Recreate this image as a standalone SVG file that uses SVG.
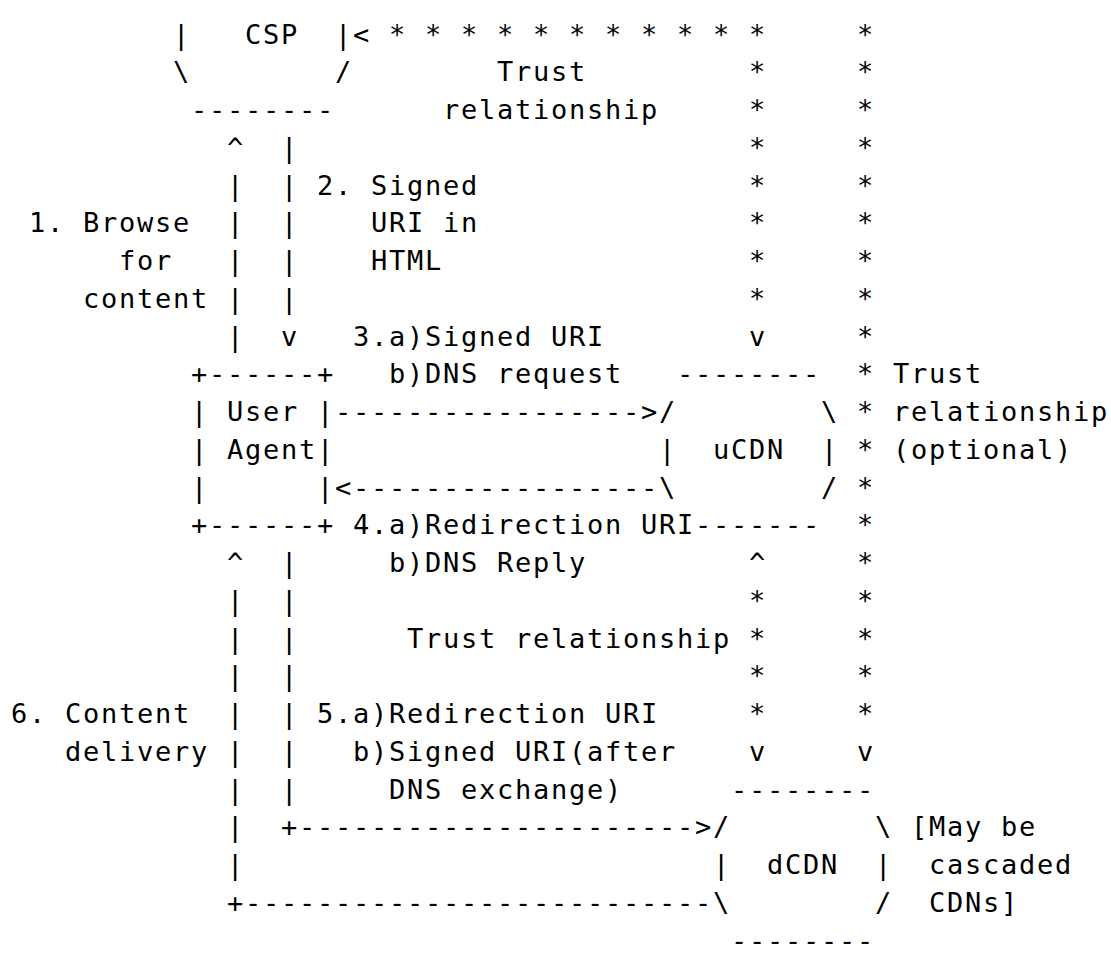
<svg xmlns="http://www.w3.org/2000/svg" width="1111" height="954" viewBox="0 0 1111 954">
<style>
text { font-family: "DejaVu Sans Mono", "Liberation Mono", monospace; font-size: 27px; letter-spacing: 1.745px; fill: #000; }
</style>
<rect width="1111" height="954" fill="#fff"/>
<g id="csp">
  <text x="172.9" y="43.5">|</text>
  <text x="244.9" y="43.5">CSP</text>
  <text x="334.9" y="43.5">|</text>
  <text x="172.9" y="81.25">\</text>
  <text x="334.9" y="81.25">/</text>
  <text x="190.9" y="119">--------</text>
</g>
<g id="user-agent">
  <text x="190.9" y="383.25">+------+</text>
  <text x="190.9" y="421">|</text>
  <text x="226.9" y="421">User</text>
  <text x="316.9" y="421">|</text>
  <text x="190.9" y="458.75">|</text>
  <text x="226.9" y="458.75">Agent|</text>
  <text x="190.9" y="496.5">|</text>
  <text x="316.9" y="496.5">|</text>
  <text x="190.9" y="534.25">+------+</text>
</g>
<g id="ucdn">
  <text x="676.9" y="383.25">--------</text>
  <text x="658.9" y="421">/</text>
  <text x="820.9" y="421">\</text>
  <text x="658.9" y="458.75">|</text>
  <text x="712.9" y="458.75">uCDN</text>
  <text x="820.9" y="458.75">|</text>
  <text x="658.9" y="496.5">\</text>
  <text x="820.9" y="496.5">/</text>
  <text x="694.9" y="534.25">-------</text>
</g>
<g id="dcdn">
  <text x="730.9" y="798.5">--------</text>
  <text x="712.9" y="836.25">/</text>
  <text x="874.9" y="836.25">\</text>
  <text x="712.9" y="874">|</text>
  <text x="766.9" y="874">dCDN</text>
  <text x="874.9" y="874">|</text>
  <text x="712.9" y="911.75">\</text>
  <text x="874.9" y="911.75">/</text>
  <text x="730.9" y="949.5">--------</text>
</g>
<g id="connectors">
  <!-- 1. browse: user agent up to CSP -->
  <text x="226.9"><tspan x="226.9" y="156.75">^</tspan><tspan x="226.9" y="194.5">|</tspan><tspan x="226.9" y="232.25">|</tspan><tspan x="226.9" y="270">|</tspan><tspan x="226.9" y="307.75">|</tspan><tspan x="226.9" y="345.5">|</tspan></text>
  <!-- 2. signed URI: CSP down to user agent -->
  <text x="280.9"><tspan x="280.9" y="156.75">|</tspan><tspan x="280.9" y="194.5">|</tspan><tspan x="280.9" y="232.25">|</tspan><tspan x="280.9" y="270">|</tspan><tspan x="280.9" y="307.75">|</tspan><tspan x="280.9" y="345.5">v</tspan></text>
  <!-- 3. request to uCDN -->
  <text x="334.9" y="421">-----------------&gt;</text>
  <!-- 4. reply from uCDN -->
  <text x="334.9" y="496.5">&lt;-----------------</text>
  <!-- 6. content delivery: dCDN to user agent -->
  <text x="226.9"><tspan x="226.9" y="572">^</tspan><tspan x="226.9" y="609.75">|</tspan><tspan x="226.9" y="647.5">|</tspan><tspan x="226.9" y="685.25">|</tspan><tspan x="226.9" y="723">|</tspan><tspan x="226.9" y="760.75">|</tspan><tspan x="226.9" y="798.5">|</tspan><tspan x="226.9" y="836.25">|</tspan><tspan x="226.9" y="874">|</tspan><tspan x="226.9" y="911.75">+--------------------------</tspan></text>
  <!-- 5. request to dCDN -->
  <text x="280.9"><tspan x="280.9" y="572">|</tspan><tspan x="280.9" y="609.75">|</tspan><tspan x="280.9" y="647.5">|</tspan><tspan x="280.9" y="685.25">|</tspan><tspan x="280.9" y="723">|</tspan><tspan x="280.9" y="760.75">|</tspan><tspan x="280.9" y="798.5">|</tspan><tspan x="280.9" y="836.25">+----------------------&gt;</tspan></text>
  <!-- trust CSP - uCDN -->
  <text x="352.9" y="43.5">&lt; * * * * * * * * * * *</text>
  <text x="748.9"><tspan x="748.9" y="81.25">*</tspan><tspan x="748.9" y="119">*</tspan><tspan x="748.9" y="156.75">*</tspan><tspan x="748.9" y="194.5">*</tspan><tspan x="748.9" y="232.25">*</tspan><tspan x="748.9" y="270">*</tspan><tspan x="748.9" y="307.75">*</tspan><tspan x="748.9" y="345.5">v</tspan></text>
  <!-- trust CSP - dCDN (optional) -->
  <text x="856.9"><tspan x="856.9" y="43.5">*</tspan><tspan x="856.9" y="81.25">*</tspan><tspan x="856.9" y="119">*</tspan><tspan x="856.9" y="156.75">*</tspan><tspan x="856.9" y="194.5">*</tspan><tspan x="856.9" y="232.25">*</tspan><tspan x="856.9" y="270">*</tspan><tspan x="856.9" y="307.75">*</tspan><tspan x="856.9" y="345.5">*</tspan><tspan x="856.9" y="383.25">*</tspan><tspan x="856.9" y="421">*</tspan><tspan x="856.9" y="458.75">*</tspan><tspan x="856.9" y="496.5">*</tspan><tspan x="856.9" y="534.25">*</tspan><tspan x="856.9" y="572">*</tspan><tspan x="856.9" y="609.75">*</tspan><tspan x="856.9" y="647.5">*</tspan><tspan x="856.9" y="685.25">*</tspan><tspan x="856.9" y="723">*</tspan><tspan x="856.9" y="760.75">v</tspan></text>
  <!-- trust uCDN - dCDN -->
  <text x="748.9"><tspan x="748.9" y="572">^</tspan><tspan x="748.9" y="609.75">*</tspan><tspan x="748.9" y="647.5">*</tspan><tspan x="748.9" y="685.25">*</tspan><tspan x="748.9" y="723">*</tspan><tspan x="748.9" y="760.75">v</tspan></text>
</g>
<g id="labels">
  <text x="496.9" y="81.25">Trust</text>
  <text x="442.9" y="119">relationship</text>
  <text x="316.9" y="194.5">2. Signed</text>
  <text x="370.9" y="232.25">URI in</text>
  <text x="370.9" y="270">HTML</text>
  <text x="28.9" y="232.25">1. Browse</text>
  <text x="118.9" y="270">for</text>
  <text x="82.9" y="307.75">content</text>
  <text x="352.9" y="345.5">3.a)Signed URI</text>
  <text x="388.9" y="383.25">b)DNS request</text>
  <text x="892.9" y="383.25">Trust</text>
  <text x="892.9" y="421">relationship</text>
  <text x="892.9" y="458.75">(optional)</text>
  <text x="352.9" y="534.25">4.a)Redirection URI</text>
  <text x="388.9" y="572">b)DNS Reply</text>
  <text x="406.9" y="647.5">Trust relationship</text>
  <text x="10.9" y="723">6. Content</text>
  <text x="64.9" y="760.75">delivery</text>
  <text x="316.9" y="723">5.a)Redirection URI</text>
  <text x="352.9" y="760.75">b)Signed URI(after</text>
  <text x="388.9" y="798.5">DNS exchange)</text>
  <text x="910.9" y="836.25">[May be</text>
  <text x="928.9" y="874">cascaded</text>
  <text x="928.9" y="911.75">CDNs]</text>
</g>
</svg>
